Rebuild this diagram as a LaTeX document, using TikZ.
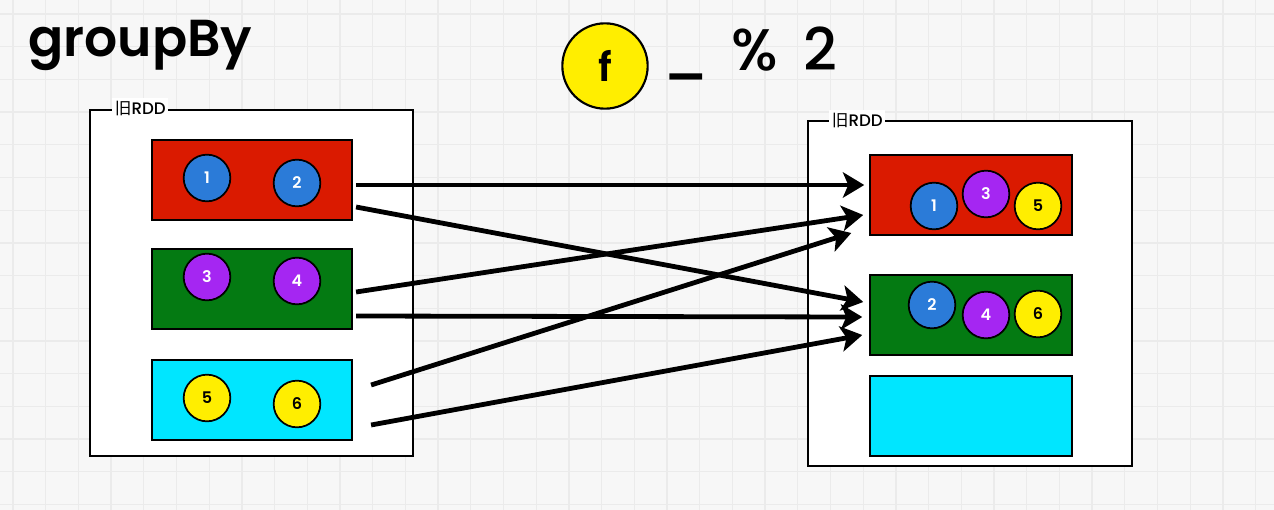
\documentclass[tikz,border=0pt]{standalone}
\usepackage{fontspec}
\setmainfont{Poppins}[UprightFont=* Medium, BoldFont=* SemiBold]
\newfontfamily\cjkfont{Noto Sans CJK SC}
\usetikzlibrary{arrows.meta}
\definecolor{bgpaper}{HTML}{F7F7F7}
\definecolor{gridgray}{HTML}{EBEBEB}
\definecolor{partred}{HTML}{DA1A00}
\definecolor{partgreen}{HTML}{047A12}
\definecolor{partcyan}{HTML}{00E6FF}
\definecolor{ballblue}{HTML}{2B7BD8}
\definecolor{ballpurple}{HTML}{A526F2}
\definecolor{ballyellow}{HTML}{FFEE00}
\tikzset{
  rdd/.style={draw=black, line width=1.9pt, fill=white},
  rddlabel/.style={fill=white, inner sep=2pt, font=\fontsize{12.5}{14}\selectfont},
  part/.style={draw=black, line width=1.6pt, minimum width=150pt, minimum height=60pt, inner sep=0pt},
  ball/.style={circle, draw=black, line width=1.3pt, minimum size=35pt, inner sep=0pt, font=\fontsize{12}{14}\selectfont\bfseries},
  blueball/.style={ball, fill=ballblue, text=white},
  purpleball/.style={ball, fill=ballpurple, text=white},
  yellowball/.style={ball, fill=ballyellow, text=black},
  move/.style={line width=3.6pt, -{Stealth[length=16pt, width=19pt, inset=4pt]}}
}
\begin{document}
\begin{tikzpicture}[x=0.75pt, y=-0.75pt]
  \useasboundingbox (0,0) rectangle (1274,510);
  % paper with grid
  \fill[bgpaper] (0,0) rectangle (1274,510);
  \foreach \gx in {13,45.7,...,1274}
    \draw[gridgray, line width=1pt] (\gx,0) -- (\gx,510);
  \foreach \gy in {14,46.7,...,510}
    \draw[gridgray, line width=1pt] (0,\gy) -- (1274,\gy);

  % title and function
  \node[anchor=base west, inner sep=0pt, font=\fontsize{39}{44}\selectfont\bfseries] (title) at (28,57) {groupBy};
  \node[circle, draw=black, line width=1.6pt, fill=ballyellow, minimum size=64pt, inner sep=0pt,
        font=\fontsize{30}{32}\selectfont\bfseries] (fn) at (605,66) {f};
  \node[anchor=base west, inner sep=0pt, font=\fontsize{44}{46}\selectfont] (under) at (662,72) {\_};
  \node[anchor=base west, inner sep=0pt, font=\fontsize{44}{46}\selectfont] (pct) at (731,70) {\%};
  \node[anchor=base west, inner sep=0pt, font=\fontsize{44}{46}\selectfont] (two) at (803,70) {2};

  % old RDD
  \draw[rdd] (90,110) rectangle (413,456);
  \node[rddlabel, anchor=west] (oldlabel) at (112,108) {{\cjkfont 旧}RDD};
  \node[part, fill=partred] (lr) at (252,180) {};
  \node[part, fill=partgreen] (lg) at (252,289) {};
  \node[part, fill=partcyan] (lc) at (252,400) {};
  \node[blueball] (a1) at (207,178) {1};
  \node[blueball] (a2) at (297,183) {2};
  \node[purpleball] (a3) at (207,277) {3};
  \node[purpleball] (a4) at (297,281) {4};
  \node[yellowball] (a5) at (207,398) {5};
  \node[yellowball] (a6) at (297,404) {6};

  % new RDD
  \draw[rdd] (808,121) rectangle (1132,466);
  \node[rddlabel, anchor=west] (newlabel) at (829,120) {{\cjkfont 旧}RDD};
  \node[part, fill=partred, minimum width=151pt] (rr) at (971,195) {};
  \node[part, fill=partgreen, minimum width=151pt] (rg) at (971,315) {};
  \node[part, fill=partcyan, minimum width=151pt] (rc) at (971,416) {};
  \node[blueball] (b1) at (934,206) {1};
  \node[purpleball] (b3) at (986,194) {3};
  \node[yellowball] (b5) at (1038,206) {5};
  \node[blueball] (b2) at (932,305) {2};
  \node[purpleball] (b4) at (986,315) {4};
  \node[yellowball] (b6) at (1038,314) {6};

  % shuffle
  \begin{scope}[move]
    \draw ([shift={(3,5)}]lr.east) -- ([shift={(-5,-10)}]rr.west);
    \draw ([shift={(3,27)}]lr.east) -- ([shift={(-6,-13)}]rg.west);
    \draw ([shift={(3,3)}]lg.east) -- ([shift={(-6,20)}]rr.west);
    \draw ([shift={(3,27)}]lg.east) -- ([shift={(-7,2)}]rg.west);
    \draw ([shift={(18,-15)}]lc.east) -- ([shift={(-18,38)}]rr.west);
    \draw ([shift={(18,25)}]lc.east) -- ([shift={(-7,20)}]rg.west);
  \end{scope}
\end{tikzpicture}
\end{document}
